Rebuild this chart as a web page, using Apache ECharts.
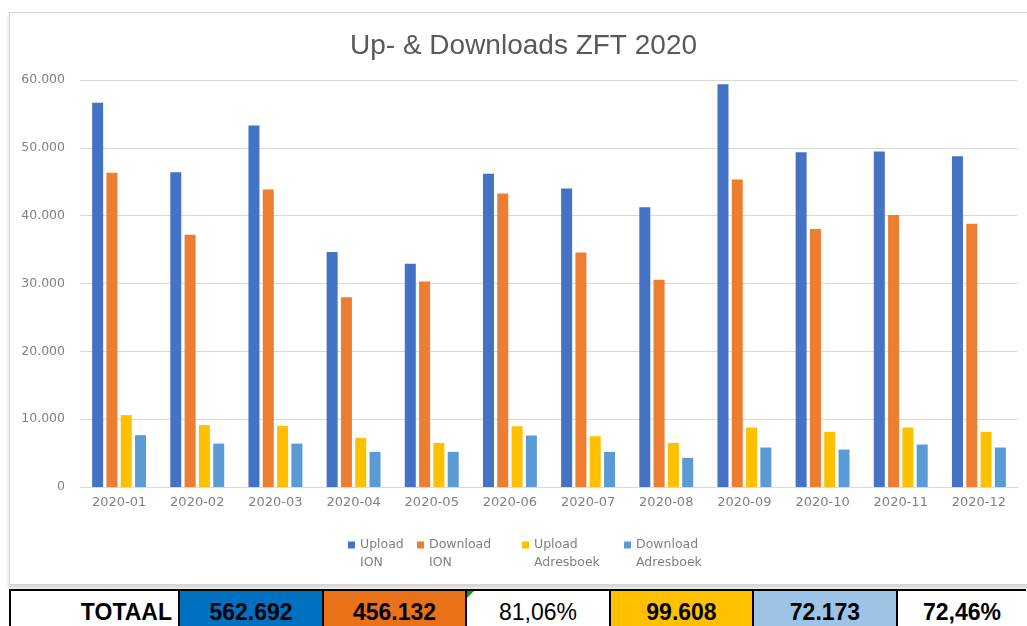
<!DOCTYPE html>
<html>
<head>
<meta charset="utf-8">
<script src="https://cdn.jsdelivr.net/npm/echarts@6/dist/echarts.min.js"></script>
<style>
  html, body { margin:0; padding:0; background:#fff; width:1027px; height:626px; overflow:hidden; }
  #frame { position:absolute; left:9px; top:12px; width:1040px; height:571px; border:1px solid #d6d6d6; box-shadow:0 3px 4px rgba(0,0,0,0.18); background:#fff; }
  #chart { position:absolute; left:0; top:0; width:1027px; height:626px; }
  #totals { position:absolute; left:0; top:589px; height:40px; width:1027px; font-family:"Liberation Sans", Arial, sans-serif; font-size:23px; color:#000; }
  .cell { position:absolute; top:0; height:40px; border-left:2px solid #000; border-top:2px solid #000; box-sizing:border-box; line-height:36px; padding-top:3px; text-align:center; }
  .tri { position:absolute; left:0; top:0; width:0; height:0; border-top:7px solid #1f8f1f; border-right:7px solid transparent; }
</style>
</head>
<body>
<div id="frame"></div>
<div id="chart"></div>
<div id="totals"></div>
<script>
const categories = ['2020-01','2020-02','2020-03','2020-04','2020-05','2020-06','2020-07','2020-08','2020-09','2020-10','2020-11','2020-12'];
const uploadION = [56660,46400,53300,34640,32910,46170,44000,41230,59360,49360,49460,48770];
const downloadION = [46310,37200,43850,27990,30300,43260,34580,30550,45320,38030,40100,38820];
const uploadAdresboek = [10600,9120,9020,7240,6500,8970,7490,6500,8770,8130,8770,8130];
const downloadAdresboek = [7640,6400,6400,5170,5170,7590,5170,4290,5820,5520,6260,5820];
const seriesNames = ['Upload\nION','Download\nION','Upload\nAdresboek','Download\nAdresboek'];
const yTicks = [0,10000,20000,30000,40000,50000,60000];
const totalTexts = ['TOTAAL','562.692','456.132','81,06%','99.608','72.173','72,46%'];

const colors = ['#4472C4','#ED7D31','#FFC000','#5B9BD5'];
const seriesData = [uploadION, downloadION, uploadAdresboek, downloadAdresboek];

function fmt(v){ return String(v).replace(/\B(?=(\d{3})+(?!\d))/g,'.'); }

const legendLefts = [348, 417, 522, 624];
const legendIcon = 'path://M0,0L7,0L7,7L0,7Z M0,25L7,25';
const chart = echarts.init(document.getElementById('chart'), null, {renderer:'canvas'});
chart.setOption({
  animation:false,
  color: colors,
  title: {
    text: 'Up- & Downloads ZFT 2020',
    left: 345, top: 27,
    textStyle: { fontFamily:'Liberation Sans, Arial, sans-serif', fontSize:28, fontWeight:'normal', color:'#595959' }
  },
  legend: seriesNames.map((n,i)=>({
    data:[n], left: legendLefts[i], top: 536, padding:0,
    itemWidth:7, itemHeight:25, icon: legendIcon, itemGap:0,
    textStyle:{ fontFamily:'DejaVu Sans, sans-serif', fontSize:12.5, color:'#808080', lineHeight:18 }
  })),
  grid: { left:80, right:9, top:80, bottom:139, containLabel:false },
  xAxis: {
    type:'category', data: categories,
    axisLine:{ lineStyle:{ color:'#d9d9d9' } },
    axisTick:{ show:false },
    axisLabel:{ margin:9, fontFamily:'DejaVu Sans, sans-serif', fontSize:13, color:'#808080' }
  },
  yAxis: {
    type:'value', min: yTicks[0], max: yTicks[yTicks.length-1], interval: yTicks[1]-yTicks[0],
    axisLine:{ show:false }, axisTick:{ show:false },
    splitLine:{ lineStyle:{ color:'#d9d9d9' } },
    axisLabel:{ margin:15, fontFamily:'DejaVu Sans, sans-serif', fontSize:12.5, color:'#808080', formatter: fmt }
  },
  series: seriesNames.map((n,i)=>({
    name:n, type:'bar', data: seriesData[i], barWidth:11, barGap:'30%',
    itemStyle:{ color: colors[i] }
  }))
});

const cellBorders = [10,179,323,466,610,753,897,1040];
const cellBgs = ['#fff','#0070C0','#E8711A','#fff','#FFC000','#9DC3E6','#fff'];
const cellBold = [true,true,true,false,true,true,true];
const totals = document.getElementById('totals');
totalTexts.forEach((t,i)=>{
  const d = document.createElement('div');
  d.className = 'cell';
  d.style.left = (cellBorders[i]-1) + 'px';
  d.style.width = (cellBorders[i+1]-cellBorders[i]) + 'px';
  d.style.background = cellBgs[i];
  d.style.fontWeight = cellBold[i] ? 'bold' : 'normal';
  if (i === 0) { d.style.textAlign = 'right'; d.style.paddingRight = '6px'; }
  if (i === 6) { d.style.width = '130px'; }
  d.textContent = t;
  if (i === 3) { const tr = document.createElement('div'); tr.className='tri'; d.appendChild(tr); }
  totals.appendChild(d);
});
</script>
</body>
</html>
